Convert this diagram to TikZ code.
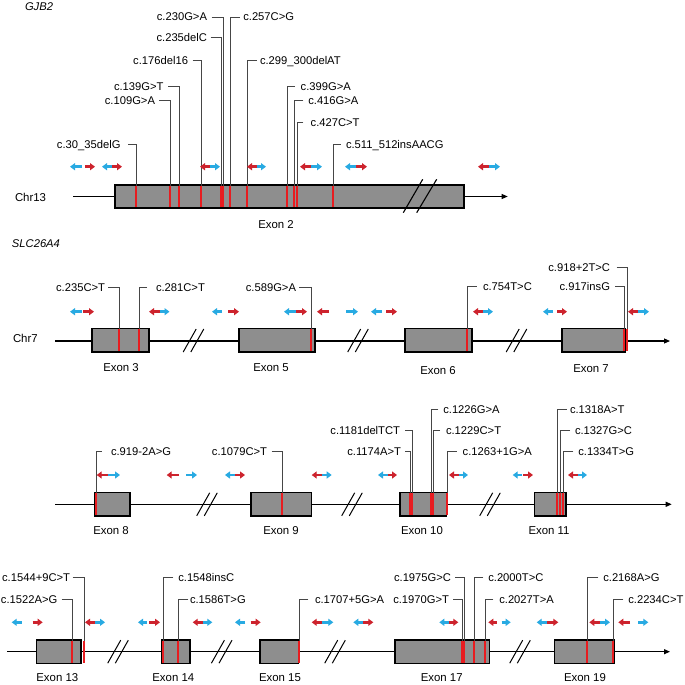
\documentclass[tikz,border=0pt]{standalone}
\usepackage{fontspec}
\setmainfont{Liberation Sans}
\usetikzlibrary{arrows.meta}
\definecolor{pred}{RGB}{205,35,45}
\definecolor{pblue}{RGB}{40,170,226}
\definecolor{mred}{RGB}{232,28,32}
\definecolor{exgray}{RGB}{142,142,142}
\definecolor{lead}{RGB}{70,70,70}
\newcount\labcount
% primer arrows
\newcommand{\prL}[4]{\draw[primer,#1] (#3,#4) -- (#2,#4);}
\newcommand{\prR}[4]{\draw[primer,#1] (#2,#4) -- (#3,#4);}
\newcommand{\prRB}[4]{\prL{pred}{#1}{#2}{#4}\prR{pblue}{#2}{#3}{#4}}
\newcommand{\prBR}[4]{\prL{pblue}{#1}{#2}{#4}\prR{pred}{#2}{#3}{#4}}
% mutation with label on the left: text, text end, tick start, vline, y, red width
\newcommand{\mutL}[6]{%
  \global\advance\labcount by 1
  \pgfmathsetmacro\vx{round(#4)}%
  \node[anchor=base east] (lab\the\labcount) at (#2,#5+4) {#1};
  \draw[leader] (#3,#5) -- (\vx,#5) -- (\vx,\btop);
  \draw[mred,line width=#6] (\vx,\btop) -- (\vx,\bbot);}
% mutation with label on the right: text, vline, tick end, text start, y, red width
\newcommand{\mutR}[6]{%
  \global\advance\labcount by 1
  \pgfmathsetmacro\vx{round(#2)}%
  \node[anchor=base west] (lab\the\labcount) at (#4,#5+4) {#1};
  \draw[leader] (#3,#5) -- (\vx,#5) -- (\vx,\btop);
  \draw[mred,line width=#6] (\vx,\btop) -- (\vx,\bbot);}
% break marks centred at x,y
\newcommand{\brk}[2]{%
  \draw[slash] (#1-3.8-6.5,#2+11.5) -- (#1-3.8+6.5,#2-11.5);
  \draw[slash] (#1+3.8-6.5,#2+11.5) -- (#1+3.8+6.5,#2-11.5);}
\begin{document}
\begin{tikzpicture}[x=1pt,y=-1pt,
  every node/.style={inner sep=0pt,outer sep=0pt,font=\fontsize{11.2}{13}\selectfont},
  chrline/.style={line width=1.1pt,-{Triangle[length=6pt,width=5pt]}},
  exbox/.style={draw=black,fill=exgray,line width=1.4pt},
  slash/.style={line width=1pt,black},
  leader/.style={draw=lead,line width=0.7pt},
  primer/.style={line width=2.8pt,-{Triangle[length=5pt,width=7pt]}},
  exlab/.style={anchor=base,font=\fontsize{11.4}{13}\selectfont}]
\useasboundingbox (0,0) rectangle (685,685);
\fill[white] (0,0) rectangle (685,685);

% ================= GJB2 =================
\node[anchor=base west,font=\fontsize{11.2}{13}\selectfont\itshape] (gjb2) at (25,11) {GJB2};
\node[anchor=base west,font=\fontsize{11.4}{13}\selectfont] (chr13) at (15,201.5) {Chr13};
\draw[chrline] (73,196.5) -- (507.7,196.5);
\draw[exbox] (115,185) rectangle (464,208);
\draw[slash,line width=1.1pt] (403.3,212.7) -- (422.7,179.3);
\draw[slash,line width=1.1pt] (416.7,212.7) -- (436.7,179.3);
\node[exlab] (ex2) at (276,228) {Exon 2};
\def\btop{185.7}\def\bbot{207.3}
\mutL{c.30\_35delG}{120.5}{128}{135.7}{144}{1.8pt}
\mutL{c.109G>A}{155}{159.3}{170}{100.7}{1.8pt}
\mutL{c.139G>T}{163.5}{168.3}{179}{86}{1.8pt}
\mutL{c.176del16}{188}{192.7}{201}{60.3}{2.8pt}
\mutL{c.235delC}{207}{210.5}{221}{37.7}{1.6pt}
\mutL{c.230G>A}{207}{211.7}{223}{17}{1.6pt}
\mutR{c.257C>G}{230.3}{240}{243.3}{17}{1.8pt}
\mutR{c.299\_300delAT}{246.7}{256.7}{260}{60.3}{1.8pt}
\mutR{c.399G>A}{287.3}{295}{300.7}{86}{1.8pt}
\mutR{c.416G>A}{294}{303.3}{308.3}{100.7}{1.6pt}
\mutR{c.427C>T}{297.3}{303.3}{310.7}{122.3}{1.6pt}
\mutR{c.511\_512insAACG}{332.7}{340.7}{346}{144}{1.8pt}
\prL{pblue}{70}{82}{166.7}
\prR{pred}{85}{95}{166.7}
\prBR{102}{112}{122}{166.7}
\prRB{200}{210}{220}{166.7}
\prRB{247}{256.5}{266}{166.7}
\prRB{300}{311}{322}{166.7}
\prBR{345}{356}{367}{166.7}
\prRB{478}{489}{500}{166.7}

% ================= SLC26A4 row 1 =================
\node[anchor=base west,font=\fontsize{11.2}{13}\selectfont\itshape] (slc) at (12,247.8) {SLC26A4};
\node[anchor=base west,font=\fontsize{11.4}{13}\selectfont] (chr7) at (13,342) {Chr7};
\draw[chrline] (55,341) -- (670,341);
\draw[exbox] (92,328.5) rectangle (149,352);
\draw[exbox] (239,328.5) rectangle (315,352);
\draw[exbox] (405,328.5) rectangle (472,352);
\draw[exbox] (562,328.5) rectangle (625,352);
\brk{193.5}{340.5}
\brk{358}{340.5}
\brk{516.5}{340.5}
\node[exlab] (ex3) at (121,371) {Exon 3};
\node[exlab] (ex5) at (271,371) {Exon 5};
\node[exlab] (ex6) at (438,374) {Exon 6};
\node[exlab] (ex7) at (591,372.3) {Exon 7};
\def\btop{329.2}\def\bbot{351.3}
\mutL{c.235C>T}{105}{108.3}{119.3}{287.7}{1.8pt}
\mutR{c.281C>T}{139.3}{147}{156}{287.7}{1.8pt}
\mutL{c.589G>A}{296}{299.3}{310.7}{287.7}{1.8pt}
\mutR{c.754T>C}{466.7}{476.7}{483}{286.7}{1.8pt}
\mutL{c.918+2T>C}{610}{616.7}{626.7}{267.3}{1.8pt}
\mutL{c.917insG}{610}{615}{624}{286.7}{1.6pt}
\prL{pblue}{70}{82}{311.7}
\prR{pred}{83}{94}{311.7}
\prRB{149}{159.5}{169.5}{311.7}
\prL{pblue}{212}{222}{311.7}
\prR{pred}{228}{239}{311.7}
\prBR{284}{296}{307}{311.7}
\prL{pred}{317}{329}{311.7}
\prR{pblue}{346}{358}{311.7}
\prL{pblue}{371}{382}{311.7}
\prR{pred}{386}{397}{311.7}
\prRB{473}{483}{493}{311.7}
\prL{pblue}{543}{553}{311.7}
\prR{pred}{557}{567}{311.7}
\prRB{628}{638}{649}{311.7}

% ================= row 2 =================
\draw[chrline] (55,504.3) -- (671.7,504.3);
\draw[exbox] (95,492.7) rectangle (130,516);
\draw[exbox] (251,492.7) rectangle (311.7,516);
\draw[exbox] (400,492.7) rectangle (446.7,516);
\draw[exbox] (534.3,492.7) rectangle (566,516);
\brk{207}{504.3}
\brk{352}{504.3}
\brk{490}{504.3}
\node[exlab] (ex8) at (111,534) {Exon 8};
\node[exlab] (ex9) at (281,534) {Exon 9};
\node[exlab] (ex10) at (422,534) {Exon 10};
\node[exlab] (ex11) at (549,534) {Exon 11};
\def\btop{493.4}\def\bbot{515.3}
\mutR{c.919-2A>G}{96}{101.7}{111}{451}{2pt}
\mutL{c.1079C>T}{267}{271.7}{281.7}{451}{1.8pt}
\mutL{c.1181delTCT}{400}{405}{412.3}{430}{1.6pt}
\mutL{c.1174A>T}{401}{405}{409.5}{451}{1.6pt}
\mutR{c.1226G>A}{430.7}{438.3}{443.3}{409.3}{1.6pt}
\mutR{c.1229C>T}{432.7}{440}{446}{430}{1.6pt}
\mutR{c.1263+1G>A}{446.7}{456.7}{462.7}{451}{1.8pt}
\mutR{c.1318A>T}{556.7}{566.7}{570}{409.3}{1.6pt}
\mutR{c.1327G>C}{560}{570}{575}{430}{1.6pt}
\mutR{c.1334T>G}{562.7}{573.3}{578.3}{451}{1.6pt}
\prRB{96.7}{108}{120}{475}
\prL{pred}{166.7}{179}{475}
\prR{pblue}{186}{197}{475}
\prBR{225}{235}{245}{475}
\prRB{311.7}{321.7}{331.7}{475}
\prBR{378}{388}{397}{475}
\prRB{449}{459}{468}{475}
\prL{pblue}{512.7}{522}{475}
\prR{pred}{523}{533}{475}
\prRB{568}{578}{587}{475}

% ================= row 3 =================
\draw[chrline] (7.3,651.7) -- (670,651.7);
\draw[exbox] (36.7,640) rectangle (81,663.3);
\draw[exbox] (161.7,640) rectangle (190,663.3);
\draw[exbox] (260,640) rectangle (298.3,663.3);
\draw[exbox] (395,640) rectangle (489.3,663.3);
\draw[exbox] (554.3,640) rectangle (614.3,663.3);
\brk{118}{651.7}
\brk{221.7}{651.7}
\brk{335}{651.7}
\brk{520}{651.7}
\node[exlab] (ex13) at (57.3,681.3) {Exon 13};
\node[exlab] (ex14) at (173.3,681.3) {Exon 14};
\node[exlab] (ex15) at (280,681.3) {Exon 15};
\node[exlab] (ex17) at (441.7,681.3) {Exon 17};
\node[exlab] (ex19) at (585,681.3) {Exon 19};
\def\btop{640.7}\def\bbot{662.6}
\mutL{c.1544+9C>T}{70}{72.7}{84}{577.7}{1.8pt}
\mutL{c.1522A>G}{57.3}{61.7}{71.7}{599}{1.8pt}
\mutR{c.1548insC}{162.7}{173.3}{178.3}{577.7}{1.8pt}
\mutR{c.1586T>G}{178.3}{188.3}{190}{599}{1.8pt}
\mutR{c.1707+5G>A}{299}{308.3}{315}{599}{1.8pt}
\mutL{c.1975G>C}{451}{455}{464.2}{577.7}{1.6pt}
\mutL{c.1970G>T}{449}{453.3}{462.2}{599}{1.6pt}
\mutR{c.2000T>C}{474.3}{483.3}{488.3}{577.7}{1.8pt}
\mutR{c.2027T>A}{485}{493.3}{499.3}{599}{1.8pt}
\mutR{c.2168A>G}{587.3}{598.3}{603.3}{577.7}{1.8pt}
\mutR{c.2234C>T}{613.3}{623.3}{628.3}{599}{1.8pt}
\prL{pblue}{11.7}{21.7}{622.3}
\prR{pred}{32.7}{42.7}{622.3}
\prRB{85}{95}{105}{622.3}
\prL{pblue}{138}{147}{622.3}
\prR{pred}{149}{160}{622.3}
\prRB{192.7}{202.7}{212.3}{622.3}
\prL{pblue}{235}{245}{622.3}
\prR{pred}{250.7}{260.7}{622.3}
\prRB{311.7}{322}{333.3}{622.3}
\prBR{353.3}{363}{373.3}{622.3}
\prBR{439.3}{449}{458.3}{622.3}
\prL{pred}{488.3}{496.7}{622.3}
\prR{pblue}{501.7}{510.7}{622.3}
\prBR{536.7}{547}{558.3}{622.3}
\prRB{589.3}{600}{610}{622.3}
\prL{pred}{618.3}{630}{622.3}
\prR{pblue}{638.3}{648.3}{622.3}
\end{tikzpicture}
\end{document}
